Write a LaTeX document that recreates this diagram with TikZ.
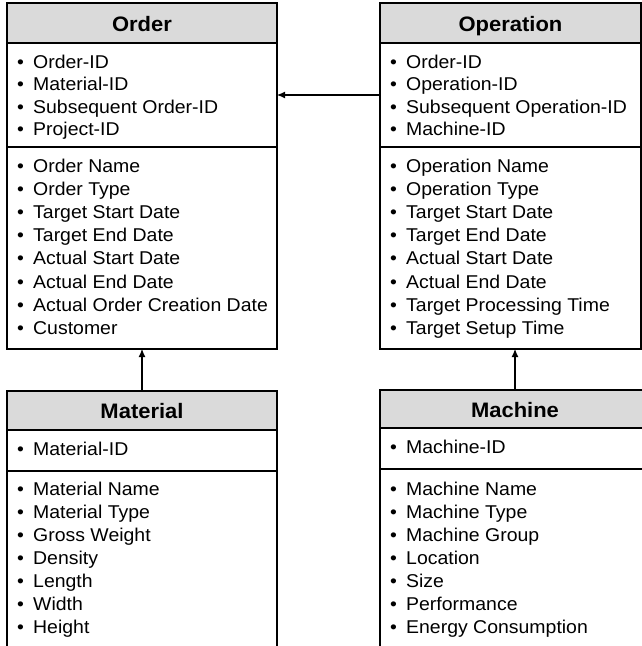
\documentclass[tikz,border=0pt]{standalone}
\usepackage{fontspec}
\setmainfont{Liberation Sans}[FakeStretch=1.05]
\usetikzlibrary{arrows.meta}

\definecolor{headgray}{RGB}{218,218,218}

\tikzset{
  frame/.style={draw=black, line width=1.3bp, fill=white, inner sep=0pt, outer sep=0pt, anchor=north west},
  headbox/.style={draw=black, line width=1.3bp, fill=headgray, inner sep=0pt, outer sep=0pt, anchor=north west},
  title/.style={font=\fontsize{21}{25}\selectfont\bfseries, anchor=base, inner sep=0pt},
  item/.style={font=\fontsize{18.6}{22}\selectfont, anchor=base west, inner sep=0pt},
  rule/.style={line width=1.3bp},
  link/.style={line width=1.1bp, -{Latex[length=8bp,width=7bp]}},
}

% one bulleted line per attribute: prefix, x, first baseline, step, entries
\newcommand\attrlist[5]{%
  \foreach \t [count=\i from 0] in {#5}
    \node[item] (#1\i) at (#2, {#3+#4*\i}) {\makebox[16bp][l]{\textbullet}\t};
}

\begin{document}
\begin{tikzpicture}[x=1bp, y=-1bp]
\useasboundingbox (0,0) rectangle (642,646);
\clip (0,0) rectangle (642,646);

% ---------- Order ----------
\node[frame, minimum width=270bp, minimum height=346bp] (order) at (7,3) {};
\node[headbox, minimum width=270bp, minimum height=40bp] (orderhead) at (7,3) {};
\node[title] (ordertitle) at (142,31.7) {Order};
\coordinate (orderdiv) at (0,147);
\draw[rule] (order.west |- orderdiv) -- (order.east |- orderdiv);
\attrlist{orderkey}{17}{68.5}{22.3}{Order-ID,Material-ID,Subsequent Order-ID,Project-ID}
\attrlist{orderattr}{17}{172.3}{23.15}{Order Name,Order Type,Target Start Date,Target End Date,Actual Start Date,Actual End Date,Actual Order Creation Date,Customer}

% ---------- Operation ----------
\node[frame, minimum width=261bp, minimum height=346bp] (operation) at (380,3) {};
\node[headbox, minimum width=261bp, minimum height=40bp] (operationhead) at (380,3) {};
\node[title] (operationtitle) at (510.5,31.7) {Operation};
\draw[rule] (operation.west |- orderdiv) -- (operation.east |- orderdiv);
\attrlist{opkey}{390}{68.5}{22.3}{Order-ID,Operation-ID,Subsequent Operation-ID,Machine-ID}
\attrlist{opattr}{390}{172.3}{23.15}{Operation Name,Operation Type,Target Start Date,Target End Date,Actual Start Date,Actual End Date,Target Processing Time,Target Setup Time}

% ---------- Material ----------
\node[frame, minimum width=270bp, minimum height=280bp] (material) at (7,391) {};
\node[headbox, minimum width=270bp, minimum height=39bp] (materialhead) at (7,391) {};
\node[title] (materialtitle) at (142,418.5) {Material};
\coordinate (materialdiv) at (0,471);
\draw[rule] (material.west |- materialdiv) -- (material.east |- materialdiv);
\attrlist{matkey}{17}{455}{23.15}{Material-ID}
\attrlist{matattr}{17}{495}{23.15}{Material Name,Material Type,Gross Weight,Density,Length,Width,Height}

% ---------- Machine ----------
\node[frame, minimum width=270bp, minimum height=280bp] (machine) at (380,390) {};
\node[headbox, minimum width=270bp, minimum height=38bp] (machinehead) at (380,390) {};
\node[title] (machinetitle) at (515,417.5) {Machine};
\coordinate (machinediv) at (0,469);
\draw[rule] (machine.west |- machinediv) -- (machine.east |- machinediv);
\attrlist{mackey}{390}{453}{23.15}{Machine-ID}
\attrlist{macattr}{390}{495}{23.15}{Machine Name,Machine Type,Machine Group,Location,Size,Performance,Energy Consumption}

% ---------- references ----------
\coordinate (linkrow) at (0,95);
\draw[link] (operation.west |- linkrow) -- (order.east |- linkrow);
\draw[link] (material.north) -- (order.south);
\draw[link] (machine.north) -- (machine.north |- operation.south);
\end{tikzpicture}
\end{document}
